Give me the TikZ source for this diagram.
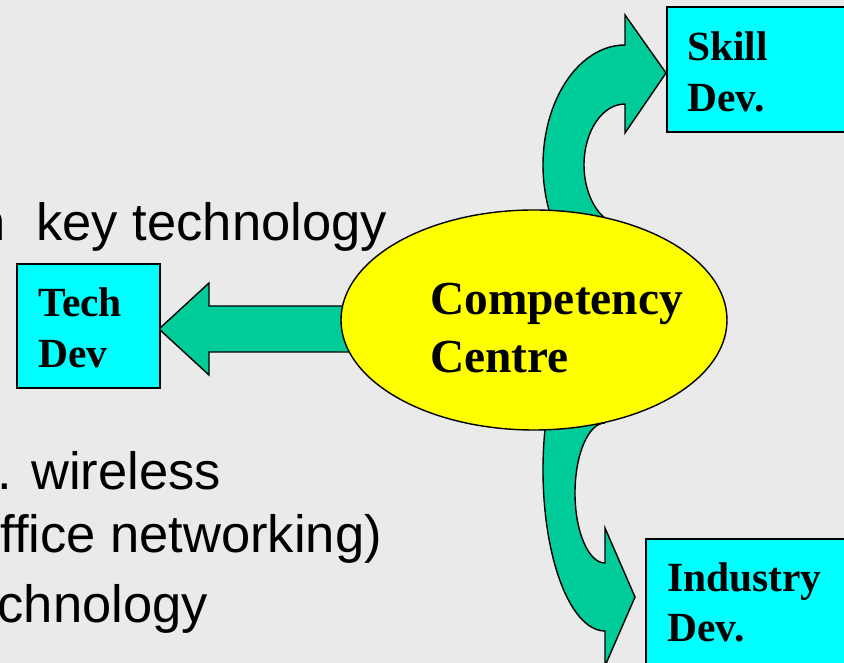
\documentclass[tikz,border=0pt]{standalone}
\usepackage{fontspec}
\setmainfont{Liberation Serif}
\newfontfamily\arialf{Liberation Sans}
\usetikzlibrary{shapes.geometric}
\definecolor{bgc}{HTML}{EAEAEA}
\definecolor{garr}{HTML}{00CC99}
\definecolor{boxc}{HTML}{00FFFF}
\definecolor{ellc}{HTML}{FFFF00}
\tikzset{
  garrow/.style={draw=black, line width=1.4pt, fill=garr, line join=miter},
  boxnode/.style={draw=black, line width=1.8pt, fill=boxc, rectangle, inner sep=0pt, anchor=south west},
  boxtxt/.style={font=\fontsize{41.5}{50}\selectfont\bfseries, anchor=base west, inner sep=0pt},
  cctxt/.style={font=\fontsize{47.4}{58}\selectfont\bfseries, anchor=base west, inner sep=0pt},
  bgtxt/.style={font=\arialf\fontsize{52.5}{62}\selectfont, anchor=base east, inner sep=0pt}
}
\begin{document}
\begin{tikzpicture}[x=1pt,y=1pt]
\useasboundingbox (0,0) rectangle (844,663);
\clip (0,0) rectangle (844,663);
\fill[bgc] (0,0) rectangle (844,663);
% background text
\node[bgtxt] (t1) at (387,422) {n\ \ \kern2pt key technology};
\node[bgtxt] (t2) at (221,173) {. wireless};
\node[bgtxt] (t3) at (382,110) {ffice networking)};
\node[bgtxt] (t4) at (208,40) {chnology};
% arrows
\draw[garrow] (380,357) -- (209,357) -- (209,380) -- (159,334) -- (209,288) -- (209,311) -- (380,311) -- cycle;
\draw[garrow] ([shift={(205:82pt and 120pt)}]625,498) arc[start angle=205, end angle=90, x radius=82pt, y radius=120pt]
  -- (625,648) -- (666,590) -- (625,530) -- (625,559)
  arc[start angle=90, end angle=242, x radius=41pt, y radius=61pt] -- cycle;
\draw[garrow] (605,240) arc[start angle=90, end angle=270, x radius=30pt, y radius=70pt]
  -- (605,135) -- (635,66) -- (605,-3) -- (605,32)
  arc[start angle=270, end angle=164, x radius=62pt, y radius=161pt] -- cycle;
% ellipse
\node[ellipse, draw=black, line width=1.4pt, fill=ellc, minimum width=386pt, minimum height=220pt, inner sep=0pt] (cc) at (534,343) {};
\node[cctxt] (cc1) at (430,348) {Competency};
\node[cctxt] (cc2) at (430,290) {Centre};
% boxes
\node[boxnode, minimum width=143pt, minimum height=124pt] (tech) at (16,274) {};
\node[boxtxt] (tech1) at (38,346) {Tech};
\node[boxtxt] (tech2) at (38,295) {Dev};
\node[boxnode, minimum width=184pt, minimum height=125pt] (skill) at (666,530) {};
\node[boxtxt] (skill1) at (687,602) {Skill};
\node[boxtxt] (skill2) at (687,551) {Dev.};
\node[boxnode, minimum width=205pt, minimum height=130pt] (ind) at (645,-7) {};
\node[boxtxt] (ind1) at (667,71) {Industry};
\node[boxtxt] (ind2) at (667,21) {Dev.};
\end{tikzpicture}
\end{document}
